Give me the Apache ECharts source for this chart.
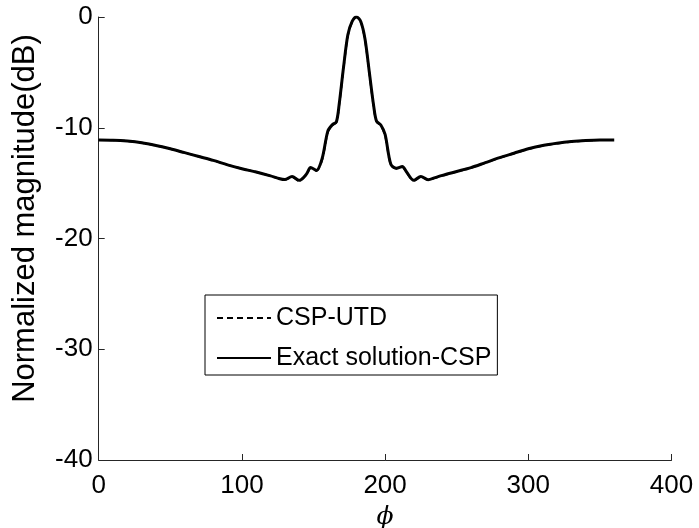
<!DOCTYPE html>
<html>
<head>
<meta charset="utf-8">
<script src="https://cdn.jsdelivr.net/npm/echarts@6/dist/echarts.min.js"></script>
<style>
html,body{margin:0;padding:0;background:#fff;}
#chart{width:699px;height:528px;}
</style>
</head>
<body>
<div id="chart"></div>
<script>
var phi = [0,10,20,30,40,50,60,70,80,90,100,110,120,125,130,135,140,145,148,152,156,160,163,166,168,171,174,177,180,183,186,189,192,194,197,200,204,208,212,215,220,225,230,235,240,250,260,270,280,290,300,310,320,330,340,350,360];
var exactCSP = [-11.1,-11.12,-11.2,-11.35,-11.6,-11.9,-12.25,-12.6,-12.95,-13.35,-13.7,-14.0,-14.35,-14.55,-14.68,-14.4,-14.75,-14.2,-13.6,-13.85,-12.8,-10.3,-9.75,-9.45,-7.8,-4.5,-1.6,-0.4,0,-0.4,-2.0,-5.0,-8.0,-9.4,-9.75,-10.6,-13.3,-13.65,-13.5,-14.0,-14.75,-14.4,-14.7,-14.5,-14.3,-13.95,-13.6,-13.15,-12.7,-12.3,-11.9,-11.6,-11.4,-11.25,-11.15,-11.1,-11.1];
var cspUTD = [-11.1,-11.12,-11.2,-11.35,-11.6,-11.9,-12.25,-12.6,-12.95,-13.35,-13.7,-14.0,-14.35,-14.55,-14.7,-14.45,-14.8,-14.25,-13.65,-13.9,-12.9,-10.4,-9.8,-9.5,-7.9,-4.6,-1.7,-0.45,0,-0.45,-2.1,-5.1,-8.1,-9.45,-9.8,-10.7,-13.35,-13.7,-13.55,-14.05,-14.8,-14.45,-14.72,-14.52,-14.32,-13.97,-13.62,-13.17,-12.72,-12.32,-11.92,-11.62,-11.42,-11.27,-11.16,-11.1,-11.1];
var xTicks = [0,100,200,300,400];
var yTicks = [-40,-30,-20,-10,0];
var seriesNames = ['CSP-UTD','Exact solution-CSP'];

function pairs(xs, ys){ return xs.map(function(x,i){ return [x, ys[i]]; }); }

var font = 'Liberation Sans, Arial, Helvetica, sans-serif';
var chart = echarts.init(document.getElementById('chart'), null, {renderer:'canvas'});
chart.setOption({
  backgroundColor:'#ffffff',
  animation:false,
  grid:{left:98.7, right:27.5, top:17, bottom:68, containLabel:false, outerBoundsMode:'none'},
  xAxis:{
    type:'value', min:xTicks[0], max:xTicks[xTicks.length-1], interval:100,
    name:'\u03d5', nameLocation:'middle', nameGap:45,
    nameTextStyle:{fontFamily:'DejaVu Serif, serif', fontStyle:'italic', fontSize:25, color:'#000'},
    axisLine:{show:true, onZero:false, lineStyle:{color:'#262626', width:1}},
    axisTick:{show:true, inside:true, length:6, lineStyle:{color:'#262626'}},
    axisLabel:{fontFamily:font, fontSize:26, color:'#000', margin:13},
    splitLine:{show:false}
  },
  yAxis:{
    type:'value', min:yTicks[0], max:yTicks[yTicks.length-1], interval:10,
    name:'Normalized magnitude(dB)', nameLocation:'middle', nameGap:58, nameRotate:90,
    nameTextStyle:{fontFamily:font, fontSize:31, color:'#000', padding:[0,0,0,40]},
    axisLine:{show:true, onZero:false, lineStyle:{color:'#262626', width:1}},
    axisTick:{show:true, inside:true, length:6, lineStyle:{color:'#262626'}},
    axisLabel:{fontFamily:font, fontSize:26, color:'#000', margin:6},
    splitLine:{show:false}
  },
  legend:{
    show:true, orient:'vertical', left:205, top:295,
    backgroundColor:'#fff', borderColor:'#000', borderWidth:1, borderRadius:0,
    padding:[8,6,2,11], itemGap:10, itemWidth:54, itemHeight:14,
    itemStyle:{opacity:0},
    lineStyle:{width:2},
    textStyle:{fontFamily:font, fontSize:25, color:'#000', lineHeight:30},
    data:seriesNames
  },
  series:[
    {
      name:seriesNames[1], type:'line', symbol:'none', smooth:0.3,
      data:pairs(phi, exactCSP),
      lineStyle:{color:'#000', width:3, type:'solid'}, itemStyle:{color:'#000'}, z:2
    },
    {
      name:seriesNames[0], type:'line', symbol:'none', smooth:0.3,
      data:pairs(phi, cspUTD),
      lineStyle:{color:'#000', width:2, type:[6,4]}, itemStyle:{color:'#000'}, z:3
    }
  ]
});
</script>
</body>
</html>
